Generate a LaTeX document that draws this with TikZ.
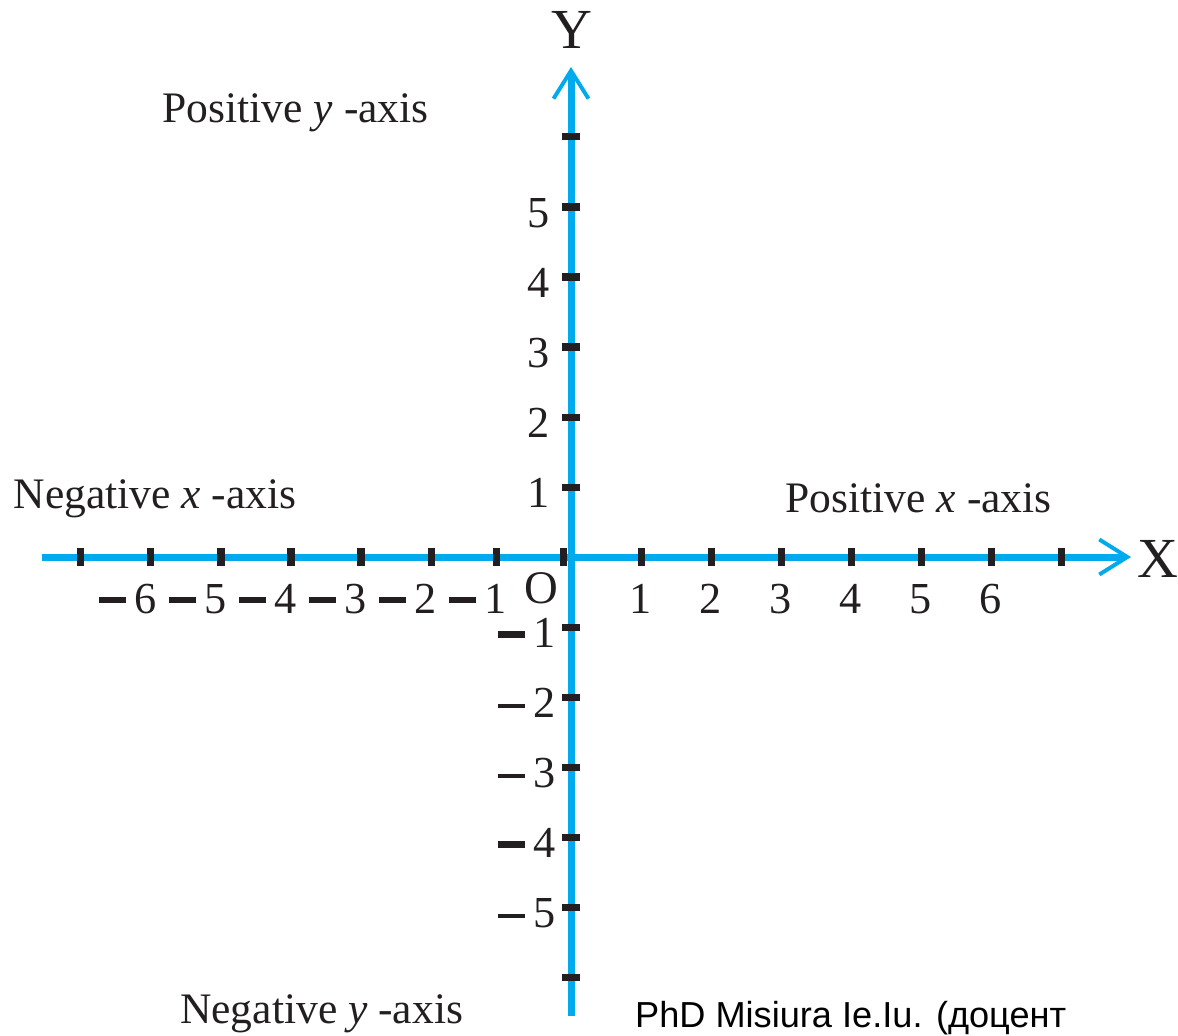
\documentclass[tikz,border=0pt]{standalone}
\usepackage{fontspec}
\setmainfont{Liberation Serif}
\newfontfamily\credfont{Liberation Sans}
\usetikzlibrary{arrows.meta}
\definecolor{caxis}{RGB}{0,170,236}
\definecolor{cink}{RGB}{35,31,32}
\newcommand{\negbar}[1]{\rule[0.22em]{0.6em}{#1}}

\begin{document}
\begin{tikzpicture}[
  x=1cm, y=1cm,
  axis/.style={caxis, line width=2.85pt},
  tickmark/.style={cink, line width=2.85pt},
  num/.style={cink, inner sep=0pt, font=\fontsize{18}{20}\selectfont},
  lbl/.style={cink, inner sep=0pt, anchor=base west, font=\fontsize{17.7}{20}\selectfont},
  axname/.style={cink, inner sep=0pt, font=\fontsize{23}{26}\selectfont},
  >={Straight Barb[length=4mm, width=5mm, line width=1.6pt]}
]
\useasboundingbox (-8.157,-6.829) rectangle (8.671,7.957);
\clip (-8.157,-6.829) rectangle (8.671,7.957);

% AXES
\coordinate (xstart) at (-7.56,0);
\coordinate (xend) at (8,0);
\coordinate (ystart) at (0,-6.56);
\coordinate (yend) at (0,7);
\draw[axis,->] (xstart) -- (xend);
\draw[axis,->] (ystart) -- (yend);
\node[axname] (xname) at (8.39,-0.03) {X};
\node[axname] (yname) at (0.01,7.53) {Y};

% TICKS
\foreach \k in {-7,-6,-5,-4,-3,-2,-1.06,-0.11,1,2,3,4,5,6,7}{
  \draw[tickmark] (\k,-0.13) -- (\k,0.13);
}
\foreach \k in {-6,...,-1,1,2,...,6}{
  \draw[tickmark] (-0.13,\k) -- (0.13,\k);
}

% NUMBERS ON X
\foreach \k in {1,...,6}{
  \node[num, anchor=base] (xp\k) at (\k,-0.8) {\k};
  \node[num, anchor=base east] (xn\k) at (-\k+0.09,-0.8) {\negbar{0.15em}\hspace{0.2em}\k};
}
\node[num, font=\fontsize{19}{22}\selectfont] (orig) at (-0.43,-0.44) {O};

% NUMBERS ON Y
\foreach \k in {1,...,5}{
  \node[num, anchor=base east] (yp\k) at (-0.3,\k-0.29) {\k};
}
\foreach \k/\w in {1/0.15em,2/0.07em,3/0.07em,4/0.15em,5/0.07em}{
  \node[num, anchor=base east] (yn\k) at (-0.21,-\k-0.29) {\negbar{\w}\hspace{0.2em}\k};
}

% HALF-AXIS NAMES
\node[lbl] (posy) at (-5.84,6.2) {Positive \textit{y} -axis};
\node[lbl] (negx) at (-7.97,0.686) {Negative \textit{x} -axis};
\node[lbl] (posx) at (3.06,0.63) {Positive \textit{x} -axis};
\node[lbl] (negy) at (-5.59,-6.66) {Negative \textit{y} -axis};

% CREDIT
\node[lbl, text=black, font=\credfont\fontsize{14.7}{17}\selectfont] (credit) at (0.91,-6.72) {PhD Misiura Ie.Iu. (доцент};

\end{tikzpicture}
\end{document}
